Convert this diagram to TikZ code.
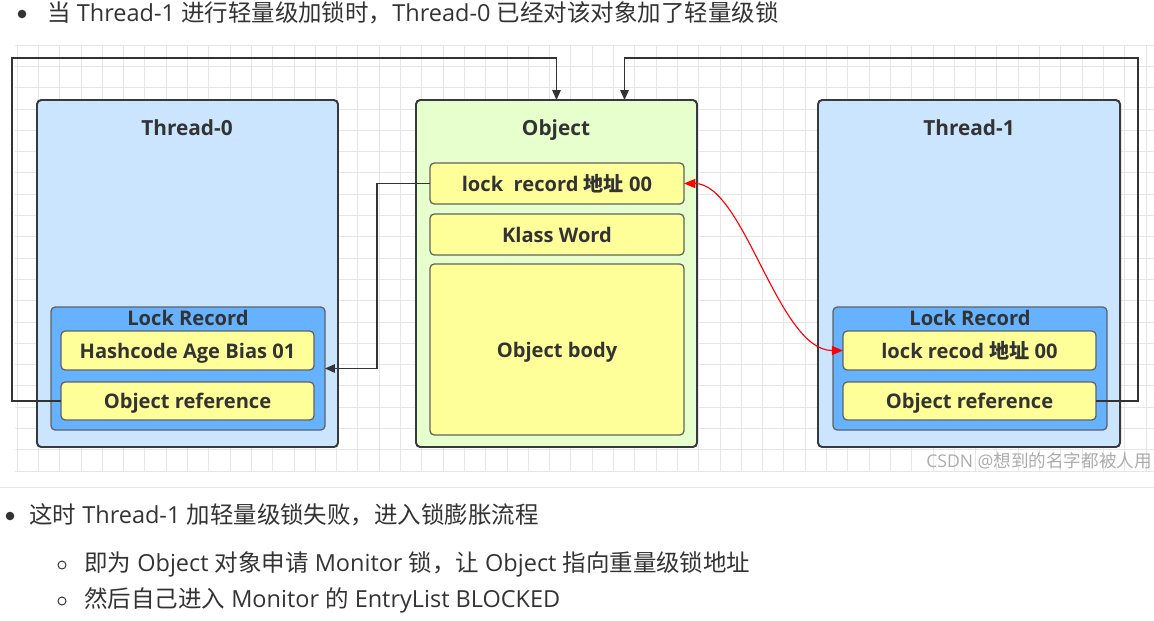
\documentclass[tikz,border=0pt]{standalone}
\usepackage{fontspec}
\setmainfont{Open Sans}
\newfontfamily\cjkfont{Noto Sans CJK SC}
\newcommand{\zhtext}[1]{{\cjkfont #1}}
\usetikzlibrary{arrows.meta}
\definecolor{textgray}{HTML}{333333}
\definecolor{threadblue}{HTML}{CCE5FF}
\definecolor{objgreen}{HTML}{E6FFCC}
\definecolor{fieldyellow}{HTML}{FFFF99}
\definecolor{recblue}{HTML}{66B2FF}
\definecolor{boxline}{HTML}{36393D}
\definecolor{gridgray}{HTML}{E6E6E6}
\newcommand{\pix}[1]{#1*0.025cm}

\begin{document}
\begin{tikzpicture}[x=0.025cm,y=-0.025cm,
  outerbox/.style={rectangle,rounded corners=3pt,draw=boxline,line width=1.4pt,inner sep=0pt,outer sep=0pt},
  recbox/.style={rectangle,rounded corners=3pt,draw=boxline!80,line width=0.9pt,fill=recblue,inner sep=0pt,outer sep=0pt,minimum width=\pix{274},minimum height=\pix{123}},
  fieldbox/.style={rectangle,rounded corners=3pt,draw=boxline!80,line width=0.9pt,fill=fieldyellow,inner sep=0pt,outer sep=0pt,minimum width=\pix{253},text height=11pt,text depth=0.2pt,text=textgray,font=\bfseries\fontsize{14.3}{16}\selectfont},
  titletext/.style={anchor=base,text=textgray,font=\bfseries\fontsize{14.8}{16}\selectfont,inner sep=0pt},
  bodytext/.style={anchor=west,text=textgray,inner sep=0pt,font=\fontsize{16.7}{19}\selectfont},
  conn/.style={draw=textgray,line width=0.8pt,-{Triangle[length=7pt,width=6pt]}},
  redconn/.style={draw=red,line width=0.8pt,{Triangle[length=8pt,width=6.5pt]}-{Triangle[length=8pt,width=6.5pt]}}]
  \useasboundingbox (0,0) rectangle (1154,620);

  \foreach \gx in {0,...,53}
    \draw[gridgray,line width=0.5pt] ({17+21.3*\gx},45) -- ({17+21.3*\gx},472);
  \foreach \gy in {0,...,20}
    \draw[gridgray,line width=0.5pt] (15,{45+21.3*\gy}) -- (1154,{45+21.3*\gy});
  \draw[gridgray,line width=0.7pt] (0,487) -- (1154,487);

  \fill[textgray] (22,14) circle (4.3);
  \node[bodytext] (intro) at (47,13) {\zhtext{当} Thread-1 \zhtext{进行轻量级加锁时，}Thread-0 \zhtext{已经对该对象加了轻量级锁}};

  \node[outerbox,fill=threadblue,minimum width=\pix{301},minimum height=\pix{347}] (thread0) at (187.5,273.5) {};
  \node[outerbox,fill=objgreen,minimum width=\pix{281},minimum height=\pix{347}] (object) at (556.5,273.5) {};
  \node[outerbox,fill=threadblue,minimum width=\pix{302},minimum height=\pix{347}] (thread1) at (969,273.5) {};
  \node[titletext] (title0) at (187,135) {Thread-0};
  \node[titletext] (titleobj) at (556,135) {Object};
  \node[titletext] (title1) at (969,135) {Thread-1};

  \node[fieldbox,minimum width=\pix{254},minimum height=\pix{41}] (lockaddr) at (557,183.5) {lock\ \ record \zhtext{地址} 00};
  \node[fieldbox,minimum width=\pix{254},minimum height=\pix{41}] (klass) at (557,234.5) {Klass Word};
  \node[fieldbox,minimum width=\pix{254},minimum height=\pix{171}] (body) at (557,349.5) {Object body};

  \node[recbox] (lockrec0) at (188,368.5) {};
  \node[titletext,font=\bfseries\fontsize{14.3}{16}\selectfont] (rectitle0) at (188,325) {Lock Record};
  \node[fieldbox,minimum height=\pix{39}] (hash0) at (187.5,350.5) {Hashcode Age Bias 01};
  \node[fieldbox,minimum height=\pix{38}] (objref0) at (187.5,401) {Object reference};

  \node[recbox] (lockrec1) at (970,368.5) {};
  \node[titletext,font=\bfseries\fontsize{14.3}{16}\selectfont] (rectitle1) at (970,325) {Lock Record};
  \node[fieldbox,minimum height=\pix{39}] (recaddr1) at (969.5,350.5) {lock recod \zhtext{地址} 00};
  \node[fieldbox,minimum height=\pix{38}] (objref1) at (969.5,401) {Object reference};

  \coordinate (lefttop) at (12,58);
  \coordinate (righttop) at (1138,58);
  \coordinate (midbend) at (377,300);
  \draw[conn] (objref0.west) -| (lefttop) -| (object.north);
  \draw[conn] (objref1.east) -| (righttop) -| ([xshift=\pix{68}]object.north);
  \draw[conn] (lockaddr.west) -| (midbend) |- (lockrec0.east);
  \draw[redconn] (lockaddr.east) .. controls +(60,0) and +(-65,0) .. (recaddr1.west);

  \node[anchor=east,text=gray!65,inner sep=0pt,font=\fontsize{12.5}{14}\selectfont] (csdn) at (1152,461) {CSDN @\zhtext{想到的名字都被人用}};

  \fill[textgray] (10,516) circle (4.3);
  \node[bodytext] (fail) at (29,515) {\zhtext{这时} Thread-1 \zhtext{加轻量级锁失败，进入锁膨胀流程}};
  \draw[textgray,line width=0.7pt] (62,565) circle (4);
  \node[bodytext] (monitor) at (84,564) {\zhtext{即为} Object \zhtext{对象申请} Monitor \zhtext{锁，让} Object \zhtext{指向重量级锁地址}};
  \draw[textgray,line width=0.7pt] (62,601) circle (4);
  \node[bodytext] (blocked) at (84,600) {\zhtext{然后自己进入} Monitor \zhtext{的} EntryList BLOCKED};
\end{tikzpicture}
\end{document}
